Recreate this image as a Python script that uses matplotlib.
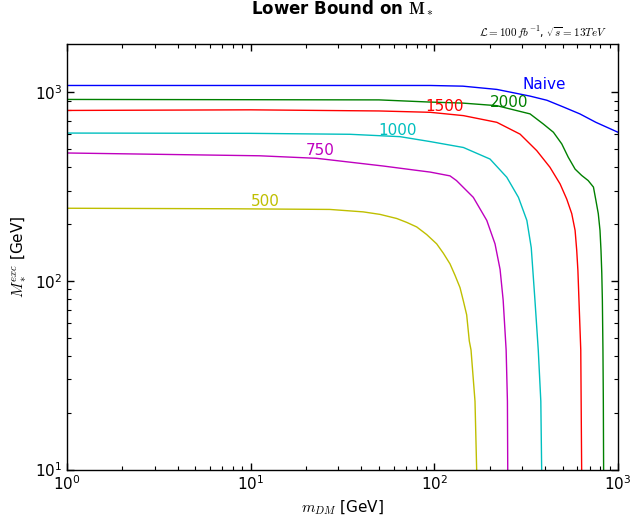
import matplotlib
matplotlib.use("Agg")
import matplotlib.pyplot as plt

plt.rcParams['mathtext.fontset'] = 'cm'
plt.rcParams['font.family'] = ['DejaVu Sans']

# Naive
naive_x = [1, 10, 50, 95, 143, 219, 332, 410, 502, 620, 758, 1000]
naive_y = [1085, 1085, 1085, 1085, 1076, 1034, 953, 906, 836, 767, 692, 613]
# 2000
g_x = [1, 50, 95, 143, 219, 332, 392, 445, 494, 536, 584, 634, 688, 735, 758, 781,
       798, 808, 816, 822, 828, 832, 835, 836]
g_y = [915, 910, 886, 875, 848, 767, 678, 613, 532, 452, 391, 362, 340, 314, 267, 227,
       185, 145, 110, 79, 43, 23, 10, 8]
# 1500
r_x = [1, 10, 50, 95, 144, 219, 293, 361, 426, 484, 526, 560, 584, 596, 605, 613, 627, 634, 635]
r_y = [800, 806, 795, 782, 751, 692, 599, 490, 400, 326, 271, 227, 185, 145, 113, 79, 43, 10, 8]
# 1000
c_x = [1, 9.9, 34.7, 65, 95, 144, 201, 248, 287, 319, 337, 344, 353, 368, 380, 384, 385]
c_y = [607, 605, 598, 581, 547, 509, 442, 354, 277, 209, 150, 113, 79, 43, 23, 10, 8]
# 750
m_x = [1, 11.2, 22.9, 52.7, 80.2, 95, 121.7, 132, 163, 193, 214, 228, 237, 246, 250, 251, 252]
m_y = [476, 460, 446, 406, 385, 377, 360, 340, 277, 209, 157, 115, 79, 43, 23, 10, 8]
# 500
y_x = [1, 7.7, 27, 41, 50.6, 62.4, 70.8, 80.2, 90.8, 103, 112, 121.7, 129.6, 138, 144,
       150, 155, 158.4, 166.5, 170, 171]
y_y = [242.5, 241, 239, 232, 225, 214, 204, 193, 176, 157, 140, 123, 107, 92, 78,
       66, 48, 43, 23, 10, 8]

series = [
    (naive_x, naive_y, 'b', 'Naive', 395, 1102),
    (g_x, g_y, 'g', '2000', 255, 885),
    (r_x, r_y, 'r', '1500', 114, 843),
    (c_x, c_y, 'c', '1000', 63.4, 630),
    (m_x, m_y, 'm', '750', 23.9, 493),
    (y_x, y_y, 'y', '500', 12.0, 262),
]
colors = {'b': (0, 0, 1), 'g': (0, 0.5, 0), 'r': (1, 0, 0),
          'c': (0, 0.75, 0.75), 'm': (0.75, 0, 0.75), 'y': (0.75, 0.75, 0)}

fig = plt.figure(figsize=(6.31, 5.21), dpi=100)
ax = fig.add_axes([67/631, 1-469.5/521, 551/631, 425.5/521])

for xs, ys, c, lab, lx, ly in series:
    ax.plot(xs, ys, color=colors[c], lw=1.0)
    ax.text(lx, ly, lab, color=colors[c], fontsize=11, ha='center', va='center')

ax.set_xscale('log')
ax.set_yscale('log')
ax.set_xlim(1, 1000)
ax.set_ylim(10, 1800)

ax.tick_params(which='both', direction='in', top=True, right=True, labelsize=11)
ax.tick_params(which='major', length=5, width=1)
ax.tick_params(which='minor', length=3, width=0.8)
for s in ax.spines.values():
    s.set_linewidth(1.0)

ax.set_xlabel(r'$m_{DM}$ [GeV]', fontsize=11)
ax.set_ylabel(r'$M_*^{exc}$ [GeV]', fontsize=11)
ax.set_title(r'Lower Bound on $\mathbf{M}_*$', fontsize=12, fontweight='bold', pad=22)
ax.text(0.98, 1.017, r'$\mathcal{L}=100\,fb^{-1}$, $\sqrt{s}=13TeV$', transform=ax.transAxes,
        ha='right', va='baseline', fontsize=8)

fig.savefig('out.png', dpi=100)
